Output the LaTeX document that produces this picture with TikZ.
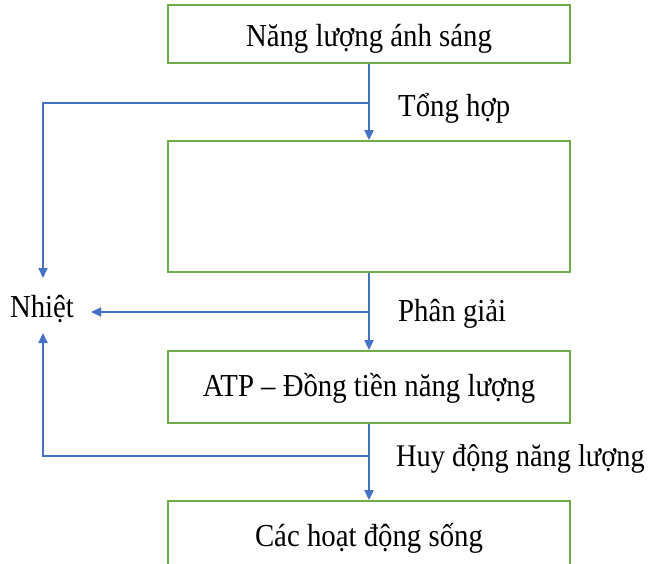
\documentclass[tikz,border=0pt]{standalone}
\usepackage{fontspec}
\setmainfont{Liberation Serif}[FakeStretch=0.9]
\usetikzlibrary{arrows.meta}
\definecolor{lineblue}{HTML}{4472C4}
\definecolor{boxgreen}{HTML}{70AD47}
\begin{document}
\begin{tikzpicture}[x=1pt,y=-1pt,
 box/.style={draw=boxgreen,line width=1.8pt,minimum width=402pt,inner sep=0pt},
 txt/.style={anchor=base,inner sep=0pt,font=\fontsize{32}{38}\selectfont},
 lbl/.style={anchor=base west,inner sep=0pt,font=\fontsize{32}{38}\selectfont},
 arr/.style={draw=lineblue,line width=2pt,-{Triangle[length=10pt,width=9pt]}}]
\useasboundingbox (0,0) rectangle (648,564);
\clip (0,0) rectangle (648,564);
% boxes
\node[box,minimum height=58pt] (b1) at (369,34) {};
\node[txt] (t1) at (369,46.7) {Năng lượng ánh sáng};
\node[box,minimum height=131pt] (b2) at (369,206.5) {};
\node[box,minimum height=72pt] (b3) at (369,387) {};
\node[txt] (t3) at (369,396.7) {ATP – Đồng tiền năng lượng};
\node[box,minimum height=100pt] (b4) at (369,551) {};
\node[txt] (t4) at (369,546.7) {Các hoạt động sống};
% heat
\node[txt] (nh) at (42,317) {Nhiệt};
\coordinate (nhT) at (43,278);
\coordinate (nhB) at (43,333);
\coordinate (nhE) at (91,312);
% branch points
\coordinate (j1) at (369,103);
\coordinate (j2) at (369,312);
\coordinate (j3) at (369,456);
% labels
\node[lbl] (l1) at (398,116.7) {Tổng hợp};
\node[lbl] (l2) at (398,321.7) {Phân giải};
\node[lbl,font=\fontsize{31.5}{38}\selectfont] (l3) at (396,466.7) {Huy động năng lượng};
% connectors
\draw[arr] (b1) -- (b2);
\draw[arr] (j1) -| (nhT);
\draw[arr] (b2) -- (b3);
\draw[arr] (j2) -- (nhE);
\draw[arr] (b3) -- (b4);
\draw[arr] (j3) -| (nhB);
\end{tikzpicture}
\end{document}
